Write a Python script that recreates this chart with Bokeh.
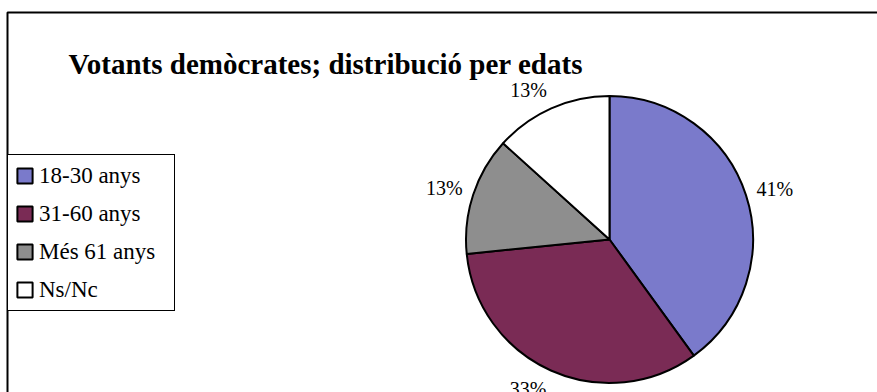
import numpy as np
from bokeh.plotting import figure
from bokeh.models import (ColumnDataSource, Range1d, Legend, LegendItem,
                          Label, BoxAnnotation)
from bokeh.core.properties import value
from bokeh.embed import file_html
from bokeh.resources import INLINE

# ---- data ----
categories = ["18-30 anys", "31-60 anys", "Més 61 anys", "Ns/Nc"]
shares = [40.0, 33.4, 13.3, 13.3]          # slice sizes measured from the pie
pct_labels = ["41%", "33%", "13%", "13%"]   # labels printed on the chart
colors = ["#7a7acb", "#7a2b55", "#8e8e8e", "#ffffff"]
title_text = "Votants demòcrates; distribució per edats"

# ---- layout (canvas pixels == data units, y measured from the bottom) ----
W, H = 877, 392
CX, CY, R = 609, 153, 143.5
LABEL_R = 155            # distance of the label box edge from the centre
LBL_W, LBL_H = 36, 18    # approximate size of a percentage label
SERIF = "Liberation Serif"

frac = np.array(shares) / np.sum(shares)
cum = np.concatenate([[0.0], np.cumsum(frac)])
start = np.pi / 2 - 2 * np.pi * cum[:-1]
end = np.pi / 2 - 2 * np.pi * cum[1:]
mid = (start + end) / 2
ux, uy = np.cos(mid), np.sin(mid)
lx = CX + LABEL_R * ux + np.sign(ux) * LBL_W / 2
ly = CY + LABEL_R * uy + uy * LBL_H / 2

src = ColumnDataSource(dict(cat=categories, start=start, end=end, color=colors,
                            lx=lx, ly=ly, lab=pct_labels))

p = figure(width=W, height=H, x_range=Range1d(0, W), y_range=Range1d(0, H),
           output_backend="svg", toolbar_location=None,
           x_axis_type=None, y_axis_type=None, min_border=0)
p.grid.visible = False
p.outline_line_color = None
p.background_fill_color = "white"
p.border_fill_color = "white"

# chart frame (top and left edges visible; the rest runs off the page)
p.add_layout(BoxAnnotation(left=7, top=380, right=W + 40, bottom=-40,
                           fill_color=None, fill_alpha=0, line_color="black",
                           line_alpha=1.0, line_width=2))

w = p.wedge(x=CX, y=CY, radius=R, start_angle="start", end_angle="end",
            direction="clock", fill_color="color", line_color="black",
            line_width=2, source=src)

p.text(x="lx", y="ly", text="lab", source=src, text_align="center",
       text_baseline="middle", text_font=value(SERIF),
       text_font_size="20px", text_color="black")

p.add_layout(Label(x=68, y=329, text=title_text, text_font=SERIF,
                   text_font_size="29px", text_font_style="bold",
                   text_baseline="alphabetic", text_color="black"))

items = [LegendItem(label=c, renderers=[w], index=i) for i, c in enumerate(categories)]
legend = Legend(items=items, location=(7, 81), orientation="vertical",
                label_text_font=SERIF, label_text_font_size="23px",
                label_text_color="black",
                glyph_width=19, glyph_height=19, label_standoff=5,
                label_width=128, label_height=27, spacing=11, padding=7,
                margin=0, border_line_color="black", border_line_width=1,
                border_line_alpha=1.0,
                background_fill_color="white", background_fill_alpha=1.0)
p.add_layout(legend)

open("out.html", "w").write(file_html(p, INLINE))
